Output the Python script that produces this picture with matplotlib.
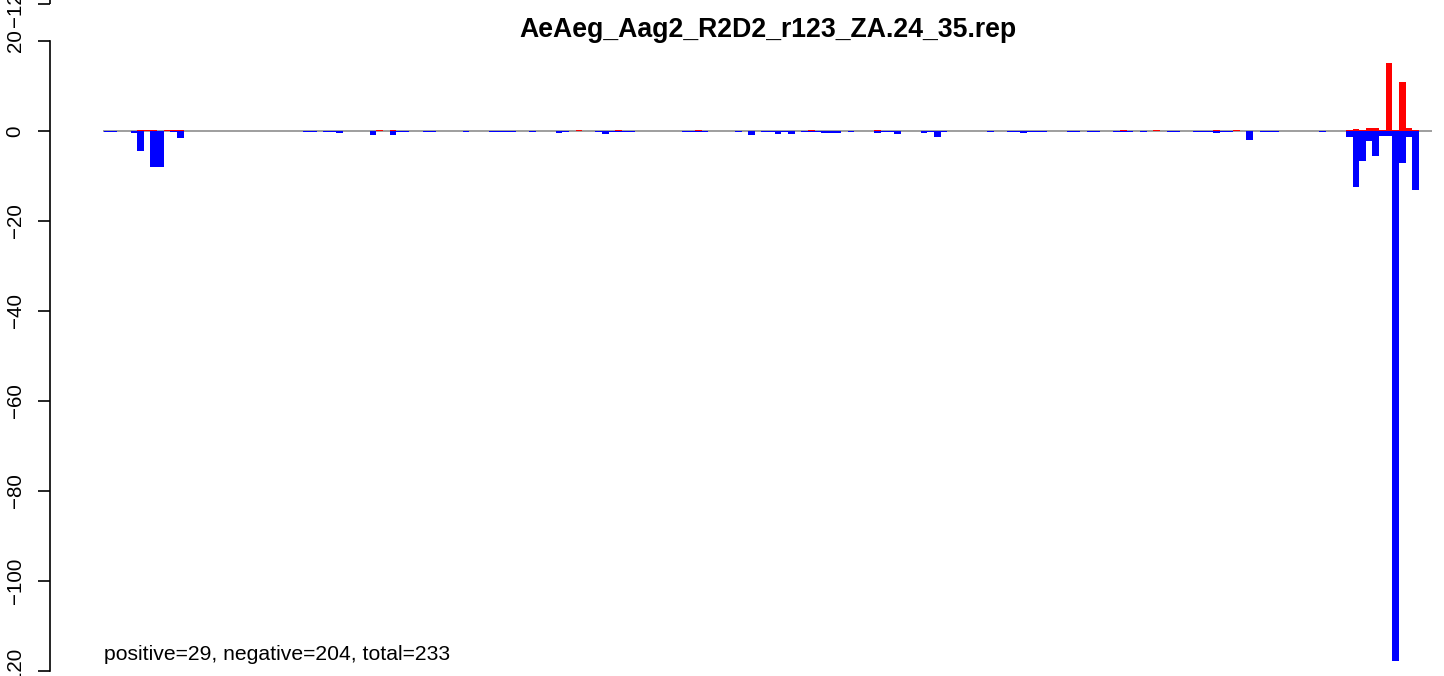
import numpy as np
import matplotlib
matplotlib.use("Agg")
import matplotlib.pyplot as plt

plt.rcParams['font.family'] = ['Liberation Sans', 'DejaVu Sans']

# ---------------- data ----------------
title = "AeAeg_Aag2_R2D2_r123_ZA.24_35.rep"
footer = "positive=29, negative=204, total=233"
n_positions = 198

pos_index = [5, 6, 7, 9, 10, 11, 41, 43, 71, 77, 89, 106, 116, 153, 158, 167, 170,
             187, 188, 189, 190, 191, 192, 193, 194, 195, 196, 197]
pos_value = [0.3, 0.3, 0.3, 0.3, 0.3, 0.3, 0.3, 0.3, 0.3, 0.3, 0.3, 0.3, 0.3, 0.3, 0.3, 0.3, 0.3,
             0.2, 0.45, 0.2, 0.67, 0.67, 0.2, 15.2, 0.2, 11.0, 0.67, 0.2]

neg_index = [0, 1, 4, 5, 7, 8, 10, 11, 30, 31, 33, 34, 35, 40, 43, 44, 45, 48, 49, 54,
             58, 59, 60, 61, 64, 68, 69, 74, 75, 76, 77, 78, 79, 87, 88, 89, 90, 95, 97,
             99, 100, 101, 102, 103, 105, 106, 107, 108, 109, 110, 112, 116, 117, 118, 119,
             123, 124, 125, 126, 133, 136, 137, 138, 139, 140, 141, 145, 146, 148, 149,
             152, 153, 154, 156, 160, 161, 164, 165, 166, 167, 168, 169, 172, 174, 175, 176,
             183, 187, 188, 189, 190, 191, 192, 193, 194, 195, 196, 197]
neg_value = [-0.25, -0.25, -0.5, -4.4, -7.9, -7.9, -0.3, -1.5, -0.25, -0.25, -0.25, -0.25, -0.5,
             -0.9, -0.9, -0.25, -0.25, -0.25, -0.25, -0.25,
             -0.25, -0.25, -0.25, -0.25, -0.25, -0.45, -0.25, -0.25, -0.7, -0.25, -0.25, -0.25, -0.25,
             -0.25, -0.25, -0.25, -0.25, -0.25, -0.9,
             -0.25, -0.25, -0.65, -0.25, -0.65, -0.25, -0.25, -0.25, -0.4, -0.4, -0.4, -0.25,
             -0.4, -0.25, -0.25, -0.65,
             -0.4, -0.25, -1.3, -0.25, -0.25, -0.25, -0.25, -0.4, -0.25, -0.25, -0.25, -0.25, -0.25,
             -0.25, -0.25,
             -0.25, -0.25, -0.25, -0.25, -0.25, -0.25, -0.25, -0.25, -0.25, -0.45, -0.25, -0.25,
             -1.9, -0.25, -0.25, -0.25,
             -0.25, -1.3, -12.4, -6.6, -2.2, -5.5, -1.0, -1.0, -117.7, -7.0, -1.3, -13.1]

yticks = [-120, -100, -80, -60, -40, -20, 0, 20]
ytick_labels = ["\u2212120", "\u2212100", "\u221280", "\u221260", "\u221240", "\u221220", "0", "20"]
extra_tick = 28.2
extra_tick_label = "\u2212120"

# ---------------- layout ----------------
W, H = 1444, 676
fig = plt.figure(figsize=(W / 100, H / 100), dpi=100)
axis_px = 50          # x pixel of the y axis line
bar0_px = 104         # left edge of first bar
bar_w_px = 6.641      # width of one position
zero_px = 131         # y pixel of value 0
unit_px = 4.5         # pixels per unit

ax = fig.add_axes([axis_px / W, 0, 1 - axis_px / W, 1])
ax.set_xlim((axis_px - bar0_px) / bar_w_px, (W - bar0_px) / bar_w_px)
ax.set_ylim((zero_px - H) / unit_px, zero_px / unit_px)

pos = np.zeros(n_positions)
neg = np.zeros(n_positions)
pos[pos_index] = pos_value
neg[neg_index] = neg_value
idx = np.arange(n_positions)

ax.hlines(0, -0.1, n_positions + 2, color="#a0a0a0", linewidth=1.44, zorder=1)
ax.bar(idx, pos, width=1.0, align="edge", color="#ff0000", linewidth=0, zorder=2)
ax.bar(idx, neg, width=1.0, align="edge", color="#0000ff", linewidth=0, zorder=2)

for s in ["top", "right", "bottom"]:
    ax.spines[s].set_visible(False)
ax.spines["left"].set_bounds(yticks[0], yticks[-1])
ax.spines["left"].set_linewidth(1.2)
ax.set_xticks([])
ax.set_yticks(yticks + [extra_tick])
ax.set_yticklabels(ytick_labels + [extra_tick_label], rotation=90, va="center",
                   fontsize=14.8)
ax.tick_params(axis="y", length=9, width=1.2, pad=9.3)
# short segment of the extra axis at the top
ax.vlines(ax.get_xlim()[0], extra_tick, ax.get_ylim()[1], color="black",
          linewidth=1.2, clip_on=False)

fig.text(767.5 / W, 1 - 30 / H, title, ha="center", va="center",
         fontsize=19.2, fontweight="bold")
fig.text(bar0_px / W, 1 - 655 / H, footer, ha="left", va="center", fontsize=15.2)

fig.savefig("out.png", dpi=100)
